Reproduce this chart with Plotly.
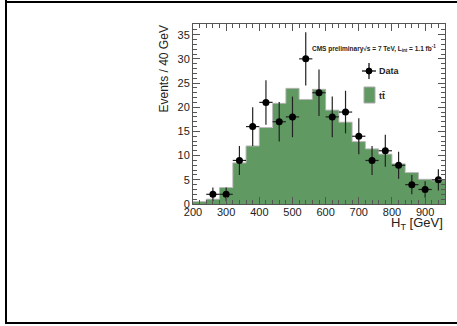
import plotly.graph_objects as go

# ---- data ----
bin_edges = [200, 240, 280, 320, 360, 400, 440, 480, 520, 560, 600, 640, 680, 720, 760, 800, 840, 880, 920, 960]
ttbar = [0.5, 1.0, 3.4, 8.5, 12.0, 15.8, 20.8, 23.9, 21.6, 23.7, 19.4, 16.9, 12.9, 11.4, 10.3, 8.3, 6.5, 5.1, 4.8]

data_x = [260, 300, 340, 380, 420, 460, 500, 540, 580, 620, 660, 700, 740, 780, 820, 860, 900, 940]
data_y = [2, 2, 9, 16, 21, 17, 18, 30, 23, 18, 19, 14, 9, 11, 8, 4, 3, 5]
data_err = [1.4, 1.4, 3.0, 4.0, 4.6, 4.1, 4.2, 5.5, 4.8, 4.2, 4.4, 3.7, 3.0, 3.3, 2.8, 2.0, 1.7, 2.2]
bin_half_width = 20

x_ticks = [200, 300, 400, 500, 600, 700, 800, 900]
y_ticks = [0, 5, 10, 15, 20, 25, 30, 35]

GREEN = "#609a62"
FONT = "Liberation Sans"

centers = [(a + b) / 2 for a, b in zip(bin_edges[:-1], bin_edges[1:])]
widths = [b - a for a, b in zip(bin_edges[:-1], bin_edges[1:])]

fig = go.Figure()
fig.add_trace(go.Bar(x=centers, y=ttbar, width=widths, marker=dict(color=GREEN, line=dict(width=0)),
                     showlegend=False, hoverinfo="skip"))
fig.add_trace(go.Scatter(x=bin_edges, y=ttbar + [ttbar[-1]], mode="lines", line=dict(shape="hv", color="#b8b8b8", width=1),
                         showlegend=False, hoverinfo="skip"))
fig.add_trace(go.Scatter(x=data_x, y=data_y, mode="markers",
                         marker=dict(color="black", size=7),
                         error_y=dict(type="data", array=data_err, color="#222", thickness=1.2, width=0),
                         error_x=dict(type="constant", value=bin_half_width, color="#222", thickness=1.2, width=0),
                         showlegend=False))

# plot area in pixels: x 193..445, y 24..204
L, R, T, B = 193, 445, 24, 204
W, H = 457, 326
def px(x):
    return (x - L) / (R - L)
def py(y):
    return (B - y) / (B - T)

axis_common = dict(showline=True, linecolor="#555", linewidth=1, mirror="ticks", ticks="inside",
                   tickcolor="#555", ticklen=7, showgrid=False, zeroline=False,
                   tickfont=dict(family=FONT, size=11, color="#222"))
fig.update_xaxes(range=[200, 960], tickvals=x_ticks, ticktext=[str(v) for v in x_ticks], ticklabelstandoff=-2,
                 minor=dict(ticks="inside", dtick=20, tick0=200, ticklen=4, tickcolor="#555"), **axis_common)
fig.update_yaxes(range=[0, 37.2], tickvals=y_ticks, ticktext=[str(v) for v in y_ticks],
                 minor=dict(ticks="inside", dtick=1, tick0=0, ticklen=4, tickcolor="#555"), **axis_common)

shapes = [
    # page border (left, top, bottom)
    dict(type="line", xref="paper", yref="paper", x0=px(6), x1=px(6), y0=py(0), y1=py(324), line=dict(color="black", width=2)),
    dict(type="line", xref="paper", yref="paper", x0=px(5), x1=px(457), y0=py(2), y1=py(2), line=dict(color="black", width=2)),
    dict(type="line", xref="paper", yref="paper", x0=px(5), x1=px(457), y0=py(323), y1=py(323), line=dict(color="black", width=2)),
    # legend: data marker with error cross
    dict(type="line", xref="paper", yref="paper", x0=px(362), x1=px(376), y0=py(71), y1=py(71), line=dict(color="black", width=1.2)),
    dict(type="line", xref="paper", yref="paper", x0=px(369), x1=px(369), y0=py(63), y1=py(79), line=dict(color="black", width=1.2)),
    dict(type="circle", xref="paper", yref="paper", x0=px(366), x1=px(372), y0=py(68), y1=py(74), fillcolor="black", line=dict(color="black", width=1)),
    # legend: ttbar box
    dict(type="rect", xref="paper", yref="paper", x0=px(364), x1=px(375), y0=py(87), y1=py(103), fillcolor=GREEN, line=dict(color="#aaa", width=1)),
]

annotations = [
    dict(text="Events / 40 GeV", textangle=-90, xref="paper", yref="paper", x=px(163), y=py(24),
         xanchor="center", yanchor="top", showarrow=False, font=dict(family=FONT, size=12, color="#222")),
    dict(text="H<sub>T</sub> [GeV]", xref="paper", yref="paper", x=px(445), y=py(223),
         xanchor="right", yanchor="middle", showarrow=False, font=dict(family=FONT, size=13, color="#222")),
    dict(text="<b>CMS preliminary√s = 7 TeV, L<sub>int</sub> = 1.1 fb<sup>-1</sup></b>", xref="paper", yref="paper",
         x=px(438), y=py(49), xanchor="right", yanchor="middle", showarrow=False,
         font=dict(family=FONT, size=6.5, color="#222")),
    dict(text="<b>Data</b>", xref="paper", yref="paper", x=px(377), y=py(71), xanchor="left", yanchor="middle",
         showarrow=False, font=dict(family=FONT, size=9, color="#222")),
    dict(text="<b>tt̄</b>", xref="paper", yref="paper", x=px(377), y=py(96), xanchor="left", yanchor="middle",
         showarrow=False, font=dict(family=FONT, size=9, color="#222")),
]

fig.update_layout(width=W, height=H, autosize=False,
                  margin=dict(l=L, r=W - R, t=T, b=H - B, pad=0),
                  paper_bgcolor="white", plot_bgcolor="white",
                  bargap=0, showlegend=False, shapes=shapes, annotations=annotations)

fig.write_html("out.html", config={"displayModeBar": False},
               post_script="document.body.style.margin='0';document.body.style.overflow='hidden';")
